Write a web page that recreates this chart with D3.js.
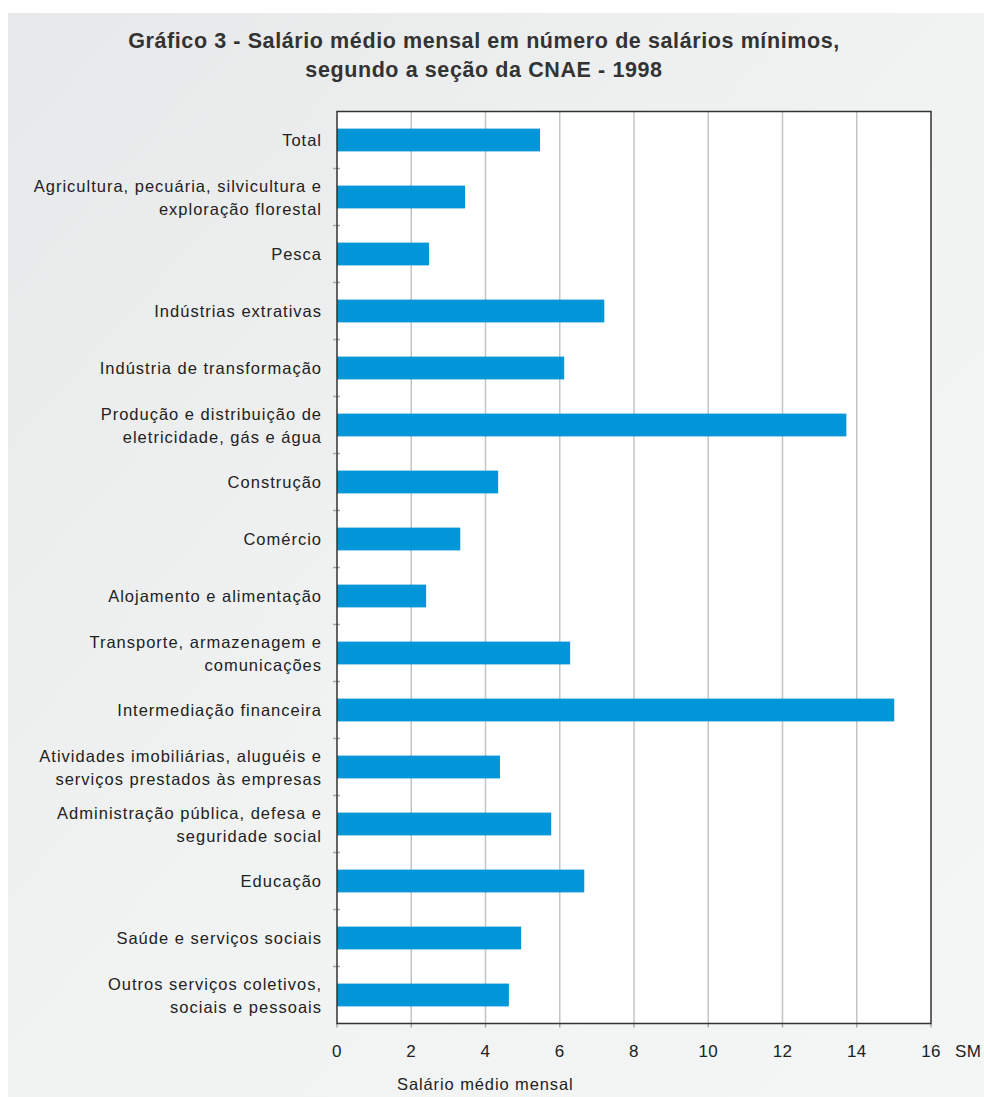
<!DOCTYPE html>
<html><head><meta charset="utf-8">
<script src="https://cdn.jsdelivr.net/npm/d3@7"></script>
<style>body{margin:0;background:#fff;} svg{display:block;}</style>
</head><body>
<script>
const categories = [
  ["Total"],
  ["Agricultura, pecuária, silvicultura e","exploração florestal"],
  ["Pesca"],
  ["Indústrias extrativas"],
  ["Indústria de transformação"],
  ["Produção e distribuição de","eletricidade, gás e água"],
  ["Construção"],
  ["Comércio"],
  ["Alojamento e alimentação"],
  ["Transporte, armazenagem e","comunicações"],
  ["Intermediação financeira"],
  ["Atividades imobiliárias, aluguéis e","serviços prestados às empresas"],
  ["Administração pública, defesa e","seguridade social"],
  ["Educação"],
  ["Saúde e serviços sociais"],
  ["Outros serviços coletivos,","sociais e pessoais"]
];
const values = [5.47, 3.45, 2.48, 7.2, 6.12, 13.72, 4.34, 3.32, 2.4, 6.28, 15.01, 4.39, 5.77, 6.66, 4.96, 4.63];
const xTicks = [0,2,4,6,8,10,12,14,16];
const titleLines = ["Gráfico 3 - Salário médio mensal em número de salários mínimos,","segundo a seção da CNAE - 1998"];
const xUnit = "SM";
const xTitle = "Salário médio mensal";

const W = 984, H = 1097;
const svg = d3.select("body").append("svg").attr("width", W).attr("height", H);
const defs = svg.append("defs");
const g = defs.append("linearGradient").attr("id","bg").attr("x1","0").attr("y1","0").attr("x2","1").attr("y2","1");
g.append("stop").attr("offset","0").attr("stop-color","#e7e8e9");
g.append("stop").attr("offset","0.5").attr("stop-color","#f1f2f2");
g.append("stop").attr("offset","1").attr("stop-color","#f4f5f5");
svg.append("rect").attr("x",8).attr("y",13).attr("width",W-8).attr("height",H-13).attr("fill","url(#bg)");

const font = "'Liberation Sans', Arial, sans-serif";
svg.append("g").selectAll("text").data(titleLines).join("text")
  .attr("x", 484).attr("y", (d,i)=>48+i*29)
  .attr("text-anchor","middle").attr("font-family",font).attr("font-weight","bold")
  .attr("font-size",21.5).attr("letter-spacing",0.6).attr("fill","#333").text(d=>d);

const pL = 337, pR = 931, pT = 111.5, pB = 1023.5;
const x = d3.scaleLinear().domain([0,16]).range([pL,pR]);
const y = d3.scaleBand().domain(d3.range(categories.length)).range([pT,pB]).paddingInner(0.6).paddingOuter(0.3);
const yb = d3.scaleBand().domain(d3.range(categories.length)).range([pT,pB]);

svg.append("rect").attr("x",pL).attr("y",pT).attr("width",pR-pL).attr("height",pB-pT).attr("fill","#fff");

// gridlines
svg.append("g").selectAll("line").data(xTicks.slice(1,-1)).join("line")
  .attr("x1",d=>x(d)).attr("x2",d=>x(d)).attr("y1",pT).attr("y2",pB)
  .attr("stroke","#c4c4c4").attr("stroke-width",1.5);

// bars
svg.append("g").selectAll("rect").data(values).join("rect")
  .attr("x",x(0)).attr("y",(d,i)=>y(i)).attr("width",d=>x(d)-x(0)).attr("height",y.bandwidth())
  .attr("fill","#0096d8");

// left ticks at band boundaries
const bounds = d3.range(1, categories.length).map(i=>yb(i));
svg.append("g").selectAll("line").data(bounds).join("line")
  .attr("x1",pL-4).attr("x2",pL+3).attr("y1",d=>d).attr("y2",d=>d)
  .attr("stroke","#aaa").attr("stroke-width",1.5);

// bottom ticks
svg.append("g").selectAll("line").data(xTicks).join("line")
  .attr("x1",d=>x(d)).attr("x2",d=>x(d)).attr("y1",pB).attr("y2",pB+4)
  .attr("stroke","#aaa").attr("stroke-width",1.5);

// frame
svg.append("rect").attr("x",pL).attr("y",pT).attr("width",pR-pL).attr("height",pB-pT)
  .attr("fill","none").attr("stroke","#333").attr("stroke-width",1.5);

// x tick labels
svg.append("g").selectAll("text").data(xTicks).join("text")
  .attr("x",d=>x(d)).attr("y",1057).attr("text-anchor","middle")
  .attr("font-family",font).attr("font-size",17).attr("letter-spacing",0.4).attr("fill","#222").text(d=>d);
svg.append("text").attr("x",955).attr("y",1057).attr("font-family",font).attr("font-size",17).attr("letter-spacing",0.4).attr("fill","#222").text(xUnit);
svg.append("text").attr("x",397).attr("y",1090).attr("font-family",font).attr("font-size",16.5).attr("letter-spacing",0.9).attr("fill","#222").text(xTitle);

// category labels
const lab = svg.append("g");
categories.forEach((lines,i)=>{
  const cy = y(i)+y.bandwidth()/2;
  const n = lines.length;
  lines.forEach((t,j)=>{
    lab.append("text").attr("x",322).attr("y", cy + (j-(n-1)/2)*23 + 6)
      .attr("text-anchor","end").attr("font-family",font).attr("font-size",16.5).attr("letter-spacing",1)
      .attr("fill","#222").text(t);
  });
});
</script>
</body></html>
